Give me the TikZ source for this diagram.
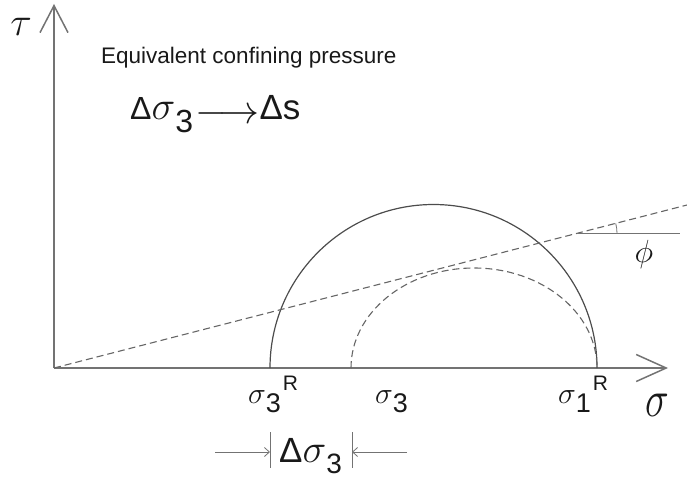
\RequirePackage{fix-cm}
\documentclass[tikz,border=0pt]{standalone}
\usepackage{fontspec}
\setmainfont{Liberation Sans}
\usetikzlibrary{positioning,arrows.meta}

% sigma with lowered index and raised mark
\newcommand{\fs}[1]{\fontsize{#1}{#1}\selectfont}
\newcommand{\stress}[2]{$\sigma$\raisebox{-9pt}{\fs{27}#1}\kern2pt\raisebox{13pt}{\fs{21}#2}}

\begin{document}
\begin{tikzpicture}[x=1pt,y=1pt,
  axis/.style={draw=black!55, line width=1.5pt},
  mohr/.style={draw=black!70, line width=1.2pt},
  guide/.style={draw=black!60, line width=1.1pt, dash pattern=on 7pt off 4pt},
  thin/.style={draw=black!55, line width=0.8pt},
  txt/.style={inner sep=0pt, text=black!90}]
  \useasboundingbox (0,0) rectangle (687,480);

  % axes
  \coordinate (O) at (54,112);
  \coordinate (T) at (54,476);
  \coordinate (S) at (668,112);
  \draw[axis, -{Straight Barb[length=27pt,width=28pt]}] (O) -- (T);
  \draw[axis, -{Straight Barb[length=30pt,width=27pt]}] (O) -- (S);

  % stress circles
  \coordinate (A) at (270,112);
  \coordinate (B) at (351,112);
  \draw[mohr] (A) arc[start angle=180, end angle=0, radius=163.5];
  \draw[guide] (B) arc[start angle=180, end angle=0, x radius=123, y radius=100];

  % failure line and friction angle
  \coordinate (E) at (687,275);
  \coordinate (P) at (577,246.6);
  \coordinate (Q) at (680,246.6);
  \draw[guide] (O) -- (E);
  \draw[thin] (P) -- (Q);
  \draw[thin] (617,246.6) arc[start angle=0, end angle=14.5, radius=40];

  % labels
  \node[txt, font=\fs{40}] (tau) at (21,453) {$\tau$};
  \node[txt, anchor=west, font=\fs{22.5}] (title) at (101,422)
    {Equivalent confining pressure};
  \node[txt, anchor=base west] (rel) at (130,360)
    {{\fs{32}Δ}{\fs{40}$\sigma$}\raisebox{-13pt}{\fs{32}3}\kern2pt\raisebox{-4pt}{\fs{40}$\longrightarrow$}{\fs{35}Δs}};
  \node[txt, anchor=base west, font=\fs{30}] (s3R) at (248,77) {\stress{3}{R}};
  \node[txt, anchor=base west, font=\fs{30}] (s3) at (375,77) {\stress{3}{}};
  \node[txt, anchor=base west, font=\fs{30}] (s1R) at (558,77) {\stress{1}{R}};
  \node[txt, font=\fs{40}] (sig) at (657,75) {\scalebox{1}[1.3]{$\sigma$}};
  \node[txt, font=\fs{32}] (phi) at (644,226) {$\phi$};

  % increment of confining pressure
  \coordinate (L1) at (270,48);
  \coordinate (L2) at (270,12);
  \coordinate (R1) at (352,48);
  \coordinate (R2) at (352,12);
  \coordinate (La) at (215,28);
  \coordinate (Lb) at (270,28);
  \coordinate (Ra) at (407,28);
  \coordinate (Rb) at (352,28);
  \draw[thin] (L1) -- (L2) (R1) -- (R2);
  \draw[thin, -{Straight Barb[length=5pt,width=9pt]}] (La) -- (Lb);
  \draw[thin, -{Straight Barb[length=5pt,width=9pt]}] (Ra) -- (Rb);
  \node[txt, anchor=base west] (dsig) at (279,18)
    {{\fs{35}Δ}{\fs{40}$\sigma$}\raisebox{-11pt}{\fs{28}3}};
\end{tikzpicture}
\end{document}
